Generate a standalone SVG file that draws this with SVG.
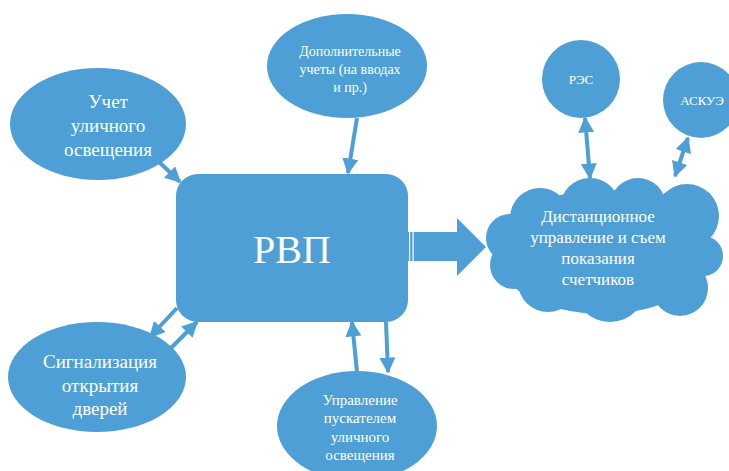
<svg xmlns="http://www.w3.org/2000/svg" width="729" height="471" viewBox="0 0 729 471">
<defs>
<style>
.n{fill:#4e9fd5;}
.t{fill:#ffffff;font-family:"Liberation Serif","DejaVu Serif",serif;text-anchor:middle;}
.c{stroke:#4e9fd5;stroke-width:4;fill:none;}
</style>
<marker id="ah" viewBox="0 0 10 10" refX="9" refY="5" markerWidth="4" markerHeight="4" orient="auto-start-reverse" markerUnits="strokeWidth">
<path d="M0,0 L10,5 L0,10 Z" fill="#4e9fd5"/>
</marker>
</defs>
<rect width="729" height="471" fill="#ffffff"/>
<g id="connectors">
<line class="c" x1="157" y1="160" x2="180" y2="182" marker-end="url(#ah)"/>
<line class="c" x1="357" y1="118" x2="348" y2="173" marker-end="url(#ah)"/>
<line class="c" x1="177" y1="308" x2="150" y2="337" marker-end="url(#ah)"/>
<line class="c" x1="169" y1="350" x2="197" y2="322" marker-end="url(#ah)"/>
<line class="c" x1="357" y1="372" x2="352" y2="322" marker-end="url(#ah)"/>
<line class="c" x1="386" y1="322" x2="388" y2="372" marker-end="url(#ah)"/>
<line class="c" x1="585" y1="118" x2="590" y2="178" marker-start="url(#ah)" marker-end="url(#ah)"/>
<line class="c" x1="688" y1="138" x2="675" y2="176" marker-start="url(#ah)" marker-end="url(#ah)"/>
<g id="block-arrow">
<path class="n" d="M405,232 L457,232 L457,218 L486,247 L457,276 L457,261 L405,261 Z"/>
<rect x="409" y="232" width="1.2" height="29" fill="#ffffff"/>
<rect x="412.5" y="232" width="1.2" height="29" fill="#ffffff"/>
</g>
</g>
<g id="node-rvp">
<rect class="n" x="176" y="174" width="232" height="148" rx="22"/>
<text class="t" x="292" y="263" font-size="40">РВП</text>
</g>
<g id="node-uchet">
<ellipse class="n" cx="98" cy="124" rx="88" ry="56"/>
<text class="t" font-size="19"><tspan x="108" y="108">Учет</tspan><tspan x="108" y="132">уличного</tspan><tspan x="108" y="156">освещения</tspan></text>
</g>
<g id="node-dop">
<ellipse class="n" cx="347" cy="66" rx="80" ry="52"/>
<text class="t" font-size="14"><tspan x="350" y="56">Дополнительные</tspan><tspan x="350" y="74">учеты (на вводах</tspan><tspan x="350" y="92">и пр.)</tspan></text>
</g>
<g id="node-signal">
<ellipse class="n" cx="97" cy="377" rx="89" ry="55"/>
<text class="t" font-size="19"><tspan x="100" y="368">Сигнализация</tspan><tspan x="100" y="392">открытия</tspan><tspan x="100" y="415">дверей</tspan></text>
</g>
<g id="node-upr">
<ellipse class="n" cx="357" cy="426" rx="80" ry="55"/>
<text class="t" font-size="15"><tspan x="360" y="405">Управление</tspan><tspan x="360" y="423">пускателем</tspan><tspan x="360" y="442">уличного</tspan><tspan x="360" y="460">освещения</tspan></text>
</g>
<g id="node-cloud">
<g class="n">
<ellipse cx="603" cy="252" rx="108" ry="62"/>
<circle cx="540" cy="218" r="30"/>
<circle cx="590" cy="208" r="30"/>
<circle cx="638" cy="206" r="28"/>
<circle cx="687" cy="216" r="32"/>
<circle cx="703" cy="256" r="20"/>
<circle cx="680" cy="288" r="28"/>
<circle cx="610" cy="286" r="36"/>
<circle cx="548" cy="282" r="30"/>
<circle cx="514" cy="265" r="24"/>
<circle cx="510" cy="238" r="24"/>
</g>
<text class="t" font-size="17"><tspan x="598" y="222">Дистанционное</tspan><tspan x="598" y="243">управление и съем</tspan><tspan x="598" y="264">показания</tspan><tspan x="598" y="285">счетчиков</tspan></text>
</g>
<g id="node-res">
<circle class="n" cx="581" cy="79" r="39"/>
<text class="t" x="581" y="84" font-size="13">РЭС</text>
</g>
<g id="node-askue">
<circle class="n" cx="701" cy="100" r="38"/>
<text class="t" x="702" y="105" font-size="13">АСКУЭ</text>
</g>
</svg>
